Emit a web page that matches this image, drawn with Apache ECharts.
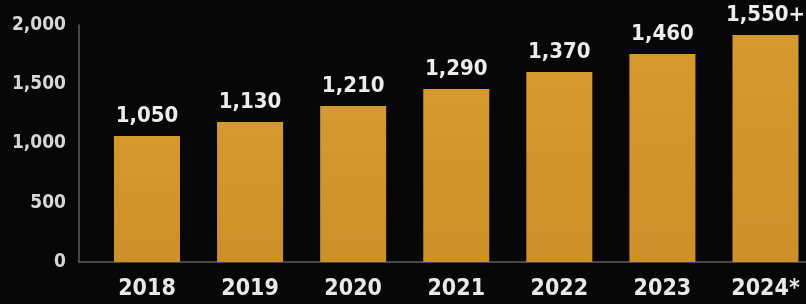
<!DOCTYPE html>
<html>
<head>
<meta charset="utf-8">
<script src="https://cdn.jsdelivr.net/npm/echarts@6/dist/echarts.min.js"></script>
<style>
  html, body { margin: 0; padding: 0; background: #070707; }
  #chart { width: 806px; height: 304px; }
</style>
</head>
<body>
<div id="chart"></div>
<script>
const years = ["2018", "2019", "2020", "2021", "2022", "2023", "2024*"];
const barValues = [1063, 1181, 1316, 1460, 1603, 1755, 1916];
const valueLabels = ["1,050", "1,130", "1,210", "1,290", "1,370", "1,460", "1,550+"];
const yTicks = [0, 500, 1000, 1500, 2000];

const font = "'DejaVu Sans Condensed', 'DejaVu Sans', sans-serif";

const chart = echarts.init(document.getElementById("chart"));

// the picture is cropped on the right, so categories sit on points, not bands
const option = {
  backgroundColor: "#070707",
  animation: false,
  grid: [
    { left: 147, right: 40.5, top: 25, bottom: 42 },
    { left: 79, right: 0, top: 25, bottom: 42 },
  ],
  xAxis: [
    {
      type: "category",
      gridIndex: 0,
      boundaryGap: false,
      data: years,
      axisLine: { show: false },
      axisTick: { show: false },
      axisLabel: {
        color: "#e8e8e8",
        fontFamily: font,
        fontWeight: "bold",
        fontSize: 23,
        margin: 16,
      },
    },
    {
      type: "category",
      gridIndex: 1,
      data: [],
      axisLine: { show: true, lineStyle: { color: "#5e5e5e", width: 1.5 } },
      axisTick: { show: false },
      axisLabel: { show: false },
    },
  ],
  yAxis: [
    {
      type: "value",
      gridIndex: 0,
      min: 0,
      max: 2000,
      interval: 500,
      show: false,
      splitLine: { show: false },
    },
    {
      type: "value",
      gridIndex: 1,
      min: yTicks[0],
      max: yTicks[yTicks.length - 1],
      interval: 500,
      axisLine: { show: true, lineStyle: { color: "#5e5e5e", width: 1.5 } },
      axisTick: { show: false },
      splitLine: { show: false },
      axisLabel: {
        color: "#d6d6d6",
        fontFamily: font,
        fontWeight: "bold",
        fontSize: 19,
        margin: 13,
        formatter: (v) => v.toLocaleString("en-US"),
      },
    },
  ],
  series: [
    {
      type: "bar",
      xAxisIndex: 0,
      yAxisIndex: 0,
      barWidth: 66,
      data: barValues,
      itemStyle: {
        color: new echarts.graphic.LinearGradient(0, 0, 0, 1, [
          { offset: 0, color: "#d6992d" },
          { offset: 1, color: "#cd9028" },
        ]),
      },
      label: {
        show: true,
        position: "top",
        distance: 9,
        color: "#ececec",
        fontFamily: font,
        fontWeight: "bold",
        fontSize: 22,
        formatter: (p) => valueLabels[p.dataIndex],
      },
    },
  ],
};

chart.setOption(option);
</script>
</body>
</html>
